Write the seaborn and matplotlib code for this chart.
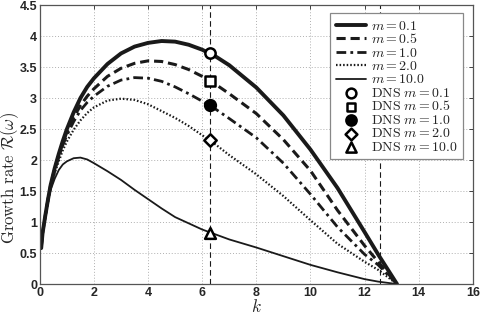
import numpy as np
import pandas as pd
import seaborn as sns
import matplotlib
matplotlib.use("Agg")
import matplotlib.pyplot as plt

# growth rate curves
k = [0.05, 0.1, 0.2, 0.3, 0.4, 0.55, 0.7, 0.85, 1.0, 1.25, 1.5, 1.75, 2.0, 2.5,
     3.0, 3.5, 4.0, 4.5, 5.0, 5.5, 6.0, 6.5, 7.0, 8.0, 9.0, 10.0, 11.0, 12.0,
     12.5, 13.2]
r_m01 = [0.58, 0.82, 1.10, 1.36, 1.60, 1.87, 2.10, 2.31, 2.50, 2.77, 3.00, 3.18,
         3.32, 3.55, 3.72, 3.83, 3.89, 3.92, 3.91, 3.86, 3.78, 3.67, 3.53, 3.17,
         2.72, 2.17, 1.55, 0.84, 0.48, 0.0]
r_m05 = [0.58, 0.82, 1.10, 1.36, 1.60, 1.86, 2.08, 2.28, 2.45, 2.69, 2.88, 3.03,
         3.15, 3.35, 3.48, 3.56, 3.60, 3.59, 3.54, 3.46, 3.35, 3.22, 3.07, 2.75,
         2.33, 1.83, 1.19, 0.62, 0.36, 0.0]
r_m1 = [0.58, 0.82, 1.10, 1.35, 1.58, 1.84, 2.05, 2.24, 2.40, 2.62, 2.80, 2.93,
        3.03, 3.19, 3.29, 3.33, 3.32, 3.27, 3.18, 3.07, 2.95, 2.82, 2.67, 2.36,
        1.95, 1.45, 0.92, 0.48, 0.31, 0.0]
r_m2 = [0.58, 0.82, 1.08, 1.33, 1.55, 1.79, 1.98, 2.16, 2.30, 2.49, 2.64, 2.76,
        2.85, 2.96, 2.99, 2.97, 2.90, 2.79, 2.68, 2.55, 2.40, 2.25, 2.08, 1.77,
        1.42, 1.03, 0.65, 0.36, 0.23, 0.0]
r_m10 = [0.58, 0.82, 1.10, 1.34, 1.52, 1.70, 1.84, 1.93, 1.98, 2.03, 2.04, 2.01,
         1.95, 1.82, 1.68, 1.52, 1.37, 1.22, 1.08, 0.98, 0.88, 0.80, 0.72, 0.59,
         0.45, 0.31, 0.19, 0.08, 0.04, 0.0]

m_labels = ["0.1", "0.5", "1.0", "2.0", "10.0"]

# DNS points at k = 2*pi
k_dns = 2 * np.pi
r_dns = [3.72, 3.28, 2.89, 2.33, 0.83]

sns.set_theme(style="white")
plt.rcParams["font.family"] = ["Liberation Sans", "DejaVu Sans"]
plt.rcParams["mathtext.fontset"] = "cm"

fig = plt.figure(figsize=(4.8, 3.16), dpi=100)
ax = fig.add_axes([0.083, 0.101, 0.902, 0.883])

curves = [r_m01, r_m05, r_m1, r_m2, r_m10]
styles = [
    dict(linestyle="-", linewidth=2.8),
    dict(linestyle=(0, (3, 1.6)), linewidth=2.2),
    dict(linestyle=(0, (3.5, 1.5, 1, 1.5)), linewidth=2.0),
    dict(linestyle=(0, (0.7, 0.9)), linewidth=1.6),
    dict(linestyle="-", linewidth=1.3),
]

ax.axvline(2 * np.pi, color="k", linestyle=(0, (5, 3)), linewidth=0.8, zorder=1)
ax.axvline(4 * np.pi, color="k", linestyle=(0, (5, 3)), linewidth=0.8, zorder=1)

for r, lab, st in zip(curves, m_labels, styles):
    df = pd.DataFrame({"k": k, "r": r})
    sns.lineplot(data=df, x="k", y="r", ax=ax, color="k",
                 label=r"$m = %s$" % lab, **st)

markers = ["o", "s", "o", "D", "^"]
faces = ["white", "white", "black", "white", "white"]
sizes = [55, 45, 60, 40, 60]
for r, lab, mk, fc, sz in zip(r_dns, m_labels, markers, faces, sizes):
    sns.scatterplot(x=[k_dns], y=[r], ax=ax, marker=mk, s=sz, facecolor=fc,
                    edgecolor="black", linewidth=1.8, zorder=5,
                    label=r"$\mathrm{DNS}\ m = %s$" % lab)

ax.set_xlim(0, 16)
ax.set_ylim(0, 4.5)
ax.set_xticks(np.arange(0, 17, 2))
ax.set_yticks(np.arange(0, 4.6, 0.5))
ax.set_yticklabels(["0", "0.5", "1", "1.5", "2", "2.5", "3", "3.5", "4", "4.5"])
ax.grid(True, linestyle=(0, (1, 2)), color="#b0b0b0", linewidth=0.7)
ax.tick_params(direction="in", top=True, right=True, length=3, width=0.6,
               labelsize=9, pad=2)
for lbl in ax.get_xticklabels() + ax.get_yticklabels():
    lbl.set_fontweight("bold")
for s in ax.spines.values():
    s.set_color("#555555")
    s.set_linewidth(0.9)

ax.set_xlabel(r"$k$", fontsize=12.5)
ax.xaxis.set_label_coords(0.5, -0.05)
ax.set_ylabel(r"$\mathrm{Growth\ rate}\ \mathcal{R}(\omega)$", fontsize=12)
ax.yaxis.set_label_coords(-0.07, 0.38)
ax.yaxis.label.set_verticalalignment("center")

leg = ax.legend(loc="upper right", bbox_to_anchor=(0.977, 0.971), fontsize=10,
                handlelength=2.2, handletextpad=0.3, labelspacing=-0.04,
                borderpad=0.4, borderaxespad=0, fancybox=False, framealpha=1,
                edgecolor="#888888", markerscale=0.95)
leg.get_frame().set_linewidth(0.9)

fig.savefig("out.png", dpi=100)
